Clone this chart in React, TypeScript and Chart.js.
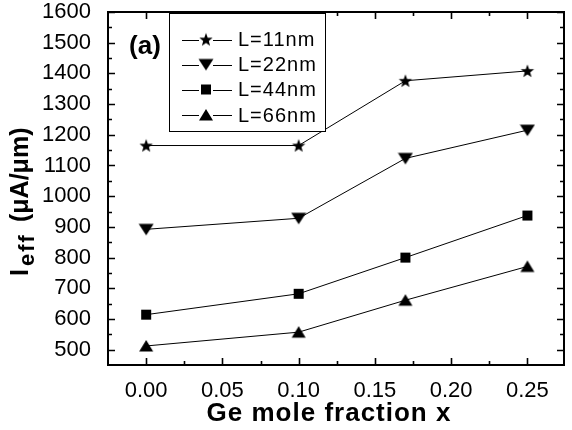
import { useEffect, useRef } from 'react';
import { Chart, registerables } from 'chart.js';

Chart.register(...registerables);

const xValues = [0, 0.1, 0.17, 0.25];
const seriesLabels = ['L=11nm', 'L=22nm', 'L=44nm', 'L=66nm'];
const L11 = [1165, 1165, 1376, 1408];
const L22 = [892, 928, 1123, 1215];
const L44 = [614, 682, 800, 937];
const L66 = [512, 557, 661, 771];
const xTicks = [0, 0.05, 0.1, 0.15, 0.2, 0.25];
const xMinorTicks = [0.025, 0.075, 0.125, 0.175, 0.225];
const yTicks = [500, 600, 700, 800, 900, 1000, 1100, 1200, 1300, 1400, 1500, 1600];
const yMinorTicks = [550, 650, 750, 850, 950, 1050, 1150, 1250, 1350, 1450, 1550];
const xTitle = 'Ge mole fraction x';
const panelLabel = '(a)';

const FONT = "'Liberation Sans', Arial, sans-serif";

type Kind = 'star' | 'down' | 'square' | 'up';
const kinds: Kind[] = ['star', 'down', 'square', 'up'];

function makeMarker(kind: Kind): HTMLCanvasElement {
  const c = document.createElement('canvas');
  const s = 16;
  c.width = s;
  c.height = s;
  const ctx = c.getContext('2d')!;
  ctx.fillStyle = '#000';
  const cx = s / 2;
  const cy = s / 2;
  ctx.beginPath();
  if (kind === 'star') {
    for (let i = 0; i < 10; i++) {
      const a = -Math.PI / 2 + (i * Math.PI) / 5;
      const r = i % 2 === 0 ? 7 : 2.9;
      const px = cx + r * Math.cos(a);
      const py = cy + 0.5 + r * Math.sin(a);
      if (i === 0) ctx.moveTo(px, py);
      else ctx.lineTo(px, py);
    }
  } else if (kind === 'down') {
    ctx.moveTo(cx - 7.5, cy - 5.5);
    ctx.lineTo(cx + 7.5, cy - 5.5);
    ctx.lineTo(cx, cy + 6);
  } else if (kind === 'square') {
    ctx.rect(cx - 5, cy - 5, 10, 10);
  } else {
    ctx.moveTo(cx - 7, cy + 5.5);
    ctx.lineTo(cx + 7, cy + 5.5);
    ctx.lineTo(cx, cy - 6);
  }
  ctx.closePath();
  ctx.fill();
  return c;
}

export default function App() {
  const ref = useRef<HTMLCanvasElement | null>(null);

  useEffect(() => {
    const canvas = ref.current;
    if (!canvas) return;
    const markers = kinds.map(makeMarker);
    const series = [L11, L22, L44, L66];

    const decorPlugin = {
      id: 'decor',
      afterDraw(chart: any) {
        const { ctx, chartArea } = chart;
        const { left, right, top, bottom } = chartArea;
        const xs = chart.scales.x;
        const ys = chart.scales.y;
        ctx.save();
        ctx.strokeStyle = '#000';
        ctx.lineWidth = 2;
        ctx.strokeRect(left, top, right - left, bottom - top);
        ctx.lineWidth = 1.6;
        ctx.beginPath();
        const major = 7;
        const minor = 4;
        for (const v of xTicks) {
          const p = Math.round(xs.getPixelForValue(v)) + 0.5;
          ctx.moveTo(p, bottom); ctx.lineTo(p, bottom - major);
          ctx.moveTo(p, top); ctx.lineTo(p, top + major);
        }
        for (const v of xMinorTicks) {
          const p = Math.round(xs.getPixelForValue(v)) + 0.5;
          ctx.moveTo(p, bottom); ctx.lineTo(p, bottom - minor);
          ctx.moveTo(p, top); ctx.lineTo(p, top + minor);
        }
        for (const v of yTicks) {
          const p = Math.round(ys.getPixelForValue(v)) + 0.5;
          ctx.moveTo(left, p); ctx.lineTo(left + major, p);
          ctx.moveTo(right, p); ctx.lineTo(right - major, p);
        }
        for (const v of yMinorTicks) {
          const p = Math.round(ys.getPixelForValue(v)) + 0.5;
          ctx.moveTo(left, p); ctx.lineTo(left + minor, p);
          ctx.moveTo(right, p); ctx.lineTo(right - minor, p);
        }
        ctx.stroke();

        // legend
        const lx = 169.5, ly = 13.5, lw = 156, lh = 118;
        ctx.fillStyle = '#fff';
        ctx.fillRect(lx, ly, lw, lh);
        ctx.lineWidth = 1;
        ctx.strokeRect(lx, ly, lw, lh);
        ctx.font = `20px ${FONT}`;
        ctx.textBaseline = 'middle';
        ctx.textAlign = 'left';
        ctx.fillStyle = '#000';
        const rows = [39.5, 64.5, 89.5, 115];
        seriesLabels.forEach((lab, i) => {
          const y = rows[i];
          ctx.beginPath();
          ctx.lineWidth = 1;
          ctx.moveTo(182, Math.round(y) + 0.5); ctx.lineTo(199, Math.round(y) + 0.5);
          ctx.moveTo(213, Math.round(y) + 0.5); ctx.lineTo(232, Math.round(y) + 0.5);
          ctx.stroke();
          ctx.drawImage(markers[i], 206 - 8, y - 8);
          (ctx as any).letterSpacing = '1px';
          ctx.fillText(lab, 238, y + 1);
          (ctx as any).letterSpacing = '0px';
        });

        // panel label
        ctx.font = `bold 26px ${FONT}`;
        ctx.textAlign = 'center';
        ctx.fillText(panelLabel, 145, 47);

        // x title
        ctx.font = `bold 26px ${FONT}`;
        (ctx as any).letterSpacing = '1px';
        ctx.fillText(xTitle, 329, 414);
        (ctx as any).letterSpacing = '0px';

        // y title with subscript
        ctx.translate(28, 276);
        ctx.rotate(-Math.PI / 2);
        ctx.textAlign = 'left';
        ctx.textBaseline = 'alphabetic';
        ctx.font = `bold 25px ${FONT}`;
        ctx.fillText('I', 0, 0);
        ctx.font = `bold 22px ${FONT}`;
        (ctx as any).letterSpacing = '2px';
        ctx.fillText('eff', 10, 6);
        (ctx as any).letterSpacing = '0px';
        ctx.font = `bold 25px ${FONT}`;
        ctx.fillText('(\u03BCA/\u03BCm)', 54, 0);
        ctx.restore();
      },
    };

    const chart = new Chart(canvas, {
      type: 'line',
      data: {
        datasets: series.map((vals, i) => ({
          label: seriesLabels[i],
          data: vals.map((v, j) => ({ x: xValues[j], y: v })),
          borderColor: '#000',
          backgroundColor: '#000',
          borderWidth: 1,
          pointStyle: markers[i],
          pointRadius: 7,
          pointHoverRadius: 7,
          fill: false,
          tension: 0,
        })),
      },
      options: {
        responsive: false,
        animation: false,
        devicePixelRatio: 1,
        layout: { padding: { top: 12, right: 2, left: 0, bottom: 0 } },
        plugins: { legend: { display: false }, tooltip: { enabled: false } },
        scales: {
          x: {
            type: 'linear',
            min: -0.025,
            max: 0.274,
            grid: { display: false },
            border: { display: false },
            afterBuildTicks: (s: any) => { s.ticks = xTicks.map((v) => ({ value: v })); },
            afterFit: (s: any) => { s.height = 65; s.paddingLeft = 0; s.paddingRight = 0; },
            ticks: {
              padding: 5,
              color: '#000',
              font: { family: FONT, size: 22 },
              maxRotation: 0,
              callback: (v: any) => Number(v).toFixed(2),
            },
          },
          y: {
            type: 'linear',
            min: 450,
            max: 1600,
            grid: { display: false },
            border: { display: false },
            afterBuildTicks: (s: any) => { s.ticks = yTicks.map((v) => ({ value: v })); },
            afterFit: (s: any) => { s.width = 108; s.paddingTop = 0; s.paddingBottom = 0; },
            ticks: {
              padding: 9,
              color: '#000',
              font: { family: FONT, size: 22 },
              callback: (v: any) => String(v),
            },
          },
        },
      },
      plugins: [decorPlugin],
    });
    return () => chart.destroy();
  }, []);

  return (
    <div style={{ position: 'fixed', left: 0, top: 0, width: 572, height: 430, background: '#fff' }}>
      <canvas ref={ref} width={572} height={430} style={{ display: 'block' }} />
    </div>
  );
}
